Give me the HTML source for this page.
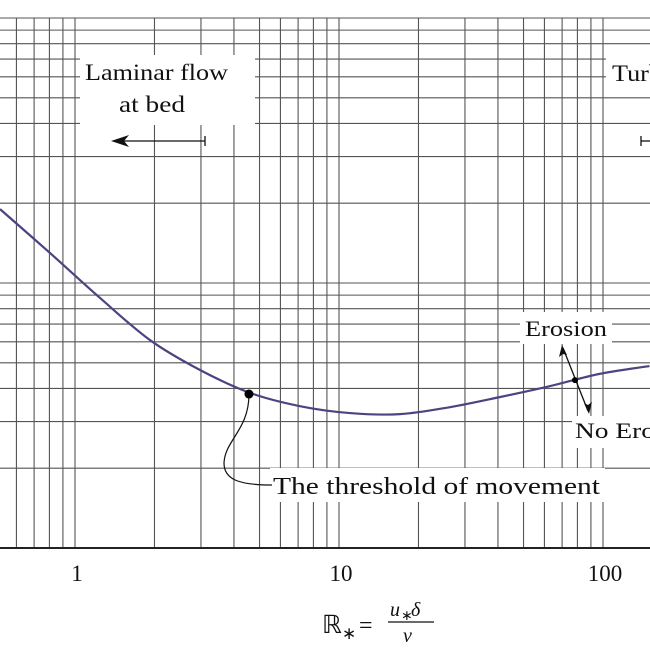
<!DOCTYPE html>
<html><head><meta charset="utf-8"><style>
body{margin:0;background:#fff}
svg text{font-family:"Liberation Serif",serif;fill:#111}
</style></head><body>
<svg id="c" width="650" height="650" viewBox="0 0 650 650" xmlns="http://www.w3.org/2000/svg">
<g id="grid"></g>
<path id="curve" fill="none" stroke="#4a4580" stroke-width="2.2"/>
<line x1="0" y1="548" x2="650" y2="548" stroke="#222" stroke-width="2"/>
<g id="ticks"></g>
<g>
<rect x="80" y="55" width="175" height="70" fill="#fff"/>
<text x="85" y="80" font-size="23" textLength="143" lengthAdjust="spacingAndGlyphs">Laminar flow</text>
<text x="119" y="112" font-size="23" textLength="66" lengthAdjust="spacingAndGlyphs">at bed</text>
<line x1="115" y1="141" x2="205" y2="141" stroke="#111" stroke-width="1.3"/>
<line x1="205" y1="136" x2="205" y2="146" stroke="#111" stroke-width="1.3"/>
<path d="M111,141 L129,135 L124,141 L129,147 Z" fill="#111"/>
</g>
<g>
<rect x="606" y="55" width="50" height="36" fill="#fff"/>
<text x="612" y="81" font-size="23" textLength="50" lengthAdjust="spacingAndGlyphs">Turb</text>
<line x1="641" y1="141" x2="650" y2="141" stroke="#111" stroke-width="1.3"/>
<line x1="641" y1="136" x2="641" y2="146" stroke="#111" stroke-width="1.3"/>
</g>
<g>
<rect x="520" y="312" width="92" height="32" fill="#fff"/>
<text x="525" y="336" font-size="22" textLength="82" lengthAdjust="spacingAndGlyphs">Erosion</text>
<rect x="572" y="416" width="80" height="32" fill="#fff"/>
<text x="575" y="438" font-size="22" textLength="80" lengthAdjust="spacingAndGlyphs">No Ero</text>
<line x1="563" y1="348" x2="588" y2="411" stroke="#111" stroke-width="1.3"/>
<path d="M562,345 L559,357 L563,354 L567,355 Z" fill="#111"/>
<path d="M589,414 L584,403 L588,405 L592,402 Z" fill="#111"/>
</g>
<g>
<rect x="270" y="468" width="335" height="34" fill="#fff"/>
<path d="M249,394 C249,430 225,440 224,463 C224,480 240,485 272,485" fill="none" stroke="#111" stroke-width="1.2"/>
<text x="273" y="494" font-size="24" textLength="327" lengthAdjust="spacingAndGlyphs">The threshold of movement</text>
</g>
<g id="marks"></g>
<g>
<text x="322" y="633" font-size="25">ℝ</text>
<text x="342" y="639" font-size="17">∗</text>
<text x="359" y="633" font-size="24">=</text>
<text x="390" y="616" font-size="20" font-style="italic">u</text>
<text x="401" y="620" font-size="14">∗</text>
<text x="411" y="616" font-size="20" font-style="italic">δ</text>
<line x1="388" y1="622" x2="434" y2="622" stroke="#111" stroke-width="1.2"/>
<text x="403" y="642" font-size="20" font-style="italic">ν</text>
</g>
</svg>
<script>
const xTicks=[1,10,100];
const xTickLabels=["1","10","100"];
const reValues=[0.520,0.804,1.244,1.923,2.97,4.60,7.11,11.0,17.0,26.3,40.6,62.8,97.1,150];
const thetaValues=[0.190,0.1298,0.0878,0.0609,0.0470,0.0385,0.0343,0.0323,0.0320,0.0340,0.0371,0.0408,0.0454,0.0486];
const thresholdPoint=[4.56,0.0381];
const erosionPoint=[78.3,0.0430];
const NS="http://www.w3.org/2000/svg";
const X=v=>75+264*Math.log10(v);
const Y=v=>548-265*(Math.log10(v)+2);
const grid=document.getElementById('grid');
function ln(x1,y1,x2,y2){const l=document.createElementNS(NS,'line');
l.setAttribute('x1',x1);l.setAttribute('y1',y1);l.setAttribute('x2',x2);l.setAttribute('y2',y2);
l.setAttribute('stroke','#555');l.setAttribute('stroke-width','1.1');


grid.appendChild(l);}
for(let d=-1;d<=2;d++)for(let m=1;m<10;m++){const v=m*Math.pow(10,d);const px=X(v);if(px>=0&&px<=650&&v<=100.5)ln(px,18,px,548);}
for(let d=-2;d<=-1;d++)for(let m=1;m<=10;m++){const v=m*Math.pow(10,d);const py=Y(v);if(py>=15&&py<548)ln(0,py,650,py);}
const pts=reValues.map((r,i)=>[X(r),Y(thetaValues[i])]);
let d='M'+pts[0][0]+','+pts[0][1];
for(let i=0;i<pts.length-1;i++){const p0=pts[Math.max(0,i-1)],p1=pts[i],p2=pts[i+1],p3=pts[Math.min(pts.length-1,i+2)];
d+=` C${p1[0]+(p2[0]-p0[0])/6},${p1[1]+(p2[1]-p0[1])/6} ${p2[0]-(p3[0]-p1[0])/6},${p2[1]-(p3[1]-p1[1])/6} ${p2[0]},${p2[1]}`;}
document.getElementById('curve').setAttribute('d',d);
const tk=document.getElementById('ticks');
xTicks.forEach((v,i)=>{const t=document.createElementNS(NS,'text');
t.setAttribute('x',X(v)+2);t.setAttribute('y',581);t.setAttribute('font-size','23');t.setAttribute('text-anchor','middle');
t.textContent=xTickLabels[i];


tk.appendChild(t);});
const mk=document.getElementById('marks');
[[thresholdPoint,4.5,'threshold-point'],[erosionPoint,3,'erosion-point']].forEach(([p,r,n])=>{const c=document.createElementNS(NS,'circle');
c.setAttribute('cx',X(p[0]));c.setAttribute('cy',Y(p[1]));c.setAttribute('r',r);c.setAttribute('fill','#000');


mk.appendChild(c);});
</script>
</body></html>
